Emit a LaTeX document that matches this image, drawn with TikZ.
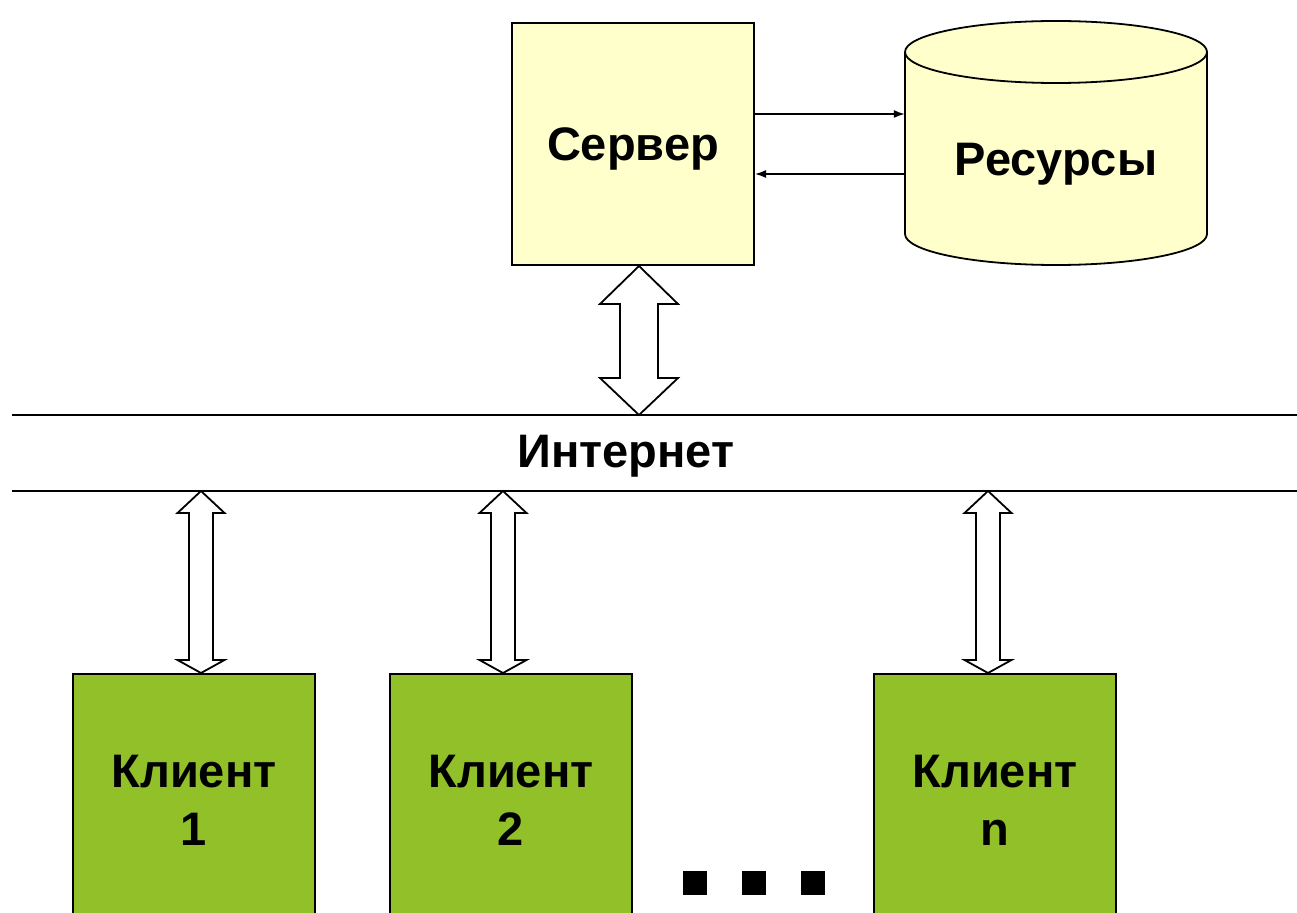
\documentclass[tikz,border=0pt]{standalone}
\usepackage{fontspec}
\setmainfont{Liberation Sans}
\usetikzlibrary{calc,arrows.meta}
\definecolor{srvyellow}{RGB}{255,255,204}
\definecolor{cligreen}{RGB}{146,192,40}
\newcommand\dblblockarrow[6]{%
  \draw[blockarrow] (#1) -- ++(#3,#5) -- ++({#4-#3},0) -- ($(#2)+(#4,-#6)$) -- ++({#3-#4},0) -- (#2)
    -- ++(-#3,-#6) -- ++({#3-#4},0) -- ($(#1)+(-#4,#5)$) -- ++({#4-#3},0) -- cycle;}
\begin{document}
\begin{tikzpicture}[x=1pt,y=-1pt,
  bigtext/.style={font=\fontsize{47}{58}\selectfont\bfseries, align=center},
  srvbox/.style={draw, line width=2pt, fill=srvyellow, minimum width=242pt, minimum height=242pt, inner sep=0pt},
  clibox/.style={draw, line width=1.5pt, fill=cligreen, minimum width=242pt, minimum height=252pt, inner sep=0pt, bigtext},
  blockarrow/.style={draw, line width=1.8pt, fill=white, line join=miter},
  thin arrow/.style={line width=1.5pt, -{Latex[length=11pt,width=8pt]}},
  netline/.style={line width=1.5pt},
  dot/.style={fill=black, minimum size=24pt, inner sep=0pt}]
\useasboundingbox (0,0) rectangle (1297,912);
% server
\node[srvbox] (srv) at (633,144) {};
\node[bigtext] (srvtext) at (633,149) {Сервер};
% cylinder
\draw[line width=1.8pt, fill=srvyellow] (905,52) -- (905,234) arc[start angle=180, end angle=0, x radius=151, y radius=31] -- (1207,52) arc[start angle=0, end angle=-180, x radius=151, y radius=31] -- cycle;
\draw[line width=1.8pt] (905,52) arc[start angle=180, end angle=0, x radius=151, y radius=31];
\node[minimum width=302pt, minimum height=245pt, inner sep=0pt] (res) at (1056,143) {};
\node[bigtext] (restext) at (1056,164) {Ресурсы};
% server <-> resources
\draw[thin arrow] (srv.east |- 0,114) -- (res.west |- 0,114);
\draw[thin arrow] (res.west |- 0,174) -- (srv.east |- 0,174);
% internet
\coordinate (nl1) at (12,415);
\coordinate (nr1) at (1297,415);
\coordinate (nl2) at (12,491);
\coordinate (nr2) at (1297,491);
\draw[netline] (nl1) -- (nr1);
\draw[netline] (nl2) -- (nr2);
\node[bigtext] (inet) at (626,456) {Интернет};
% clients
\node[clibox] (c1) at (194,800) {Клиент\\1};
\node[clibox] (c2) at (511,800) {Клиент\\2};
\node[clibox] (cn) at (995,800) {Клиент\\n};
% dots
\node[dot] (d1) at (695,883) {};
\node[dot] (d2) at (754,883) {};
\node[dot] (d3) at (813,883) {};
% block arrows
\coordinate (sa) at ($(srv.south)+(6,0)$);
\coordinate (sb) at (sa |- nl1);
\dblblockarrow{sa}{sb}{39}{19}{38}{37}
\coordinate (a1t) at (201,491);
\coordinate (a1b) at (201,673);
\coordinate (a2t) at (503,491);
\coordinate (a2b) at (503,673);
\coordinate (ant) at (988,491);
\coordinate (anb) at (988,673);
\dblblockarrow{a1t}{a1b}{23.5}{12}{22}{13}
\dblblockarrow{a2t}{a2b}{23.5}{12}{22}{13}
\dblblockarrow{ant}{anb}{23.5}{12}{22}{13}
\end{tikzpicture}
\end{document}
